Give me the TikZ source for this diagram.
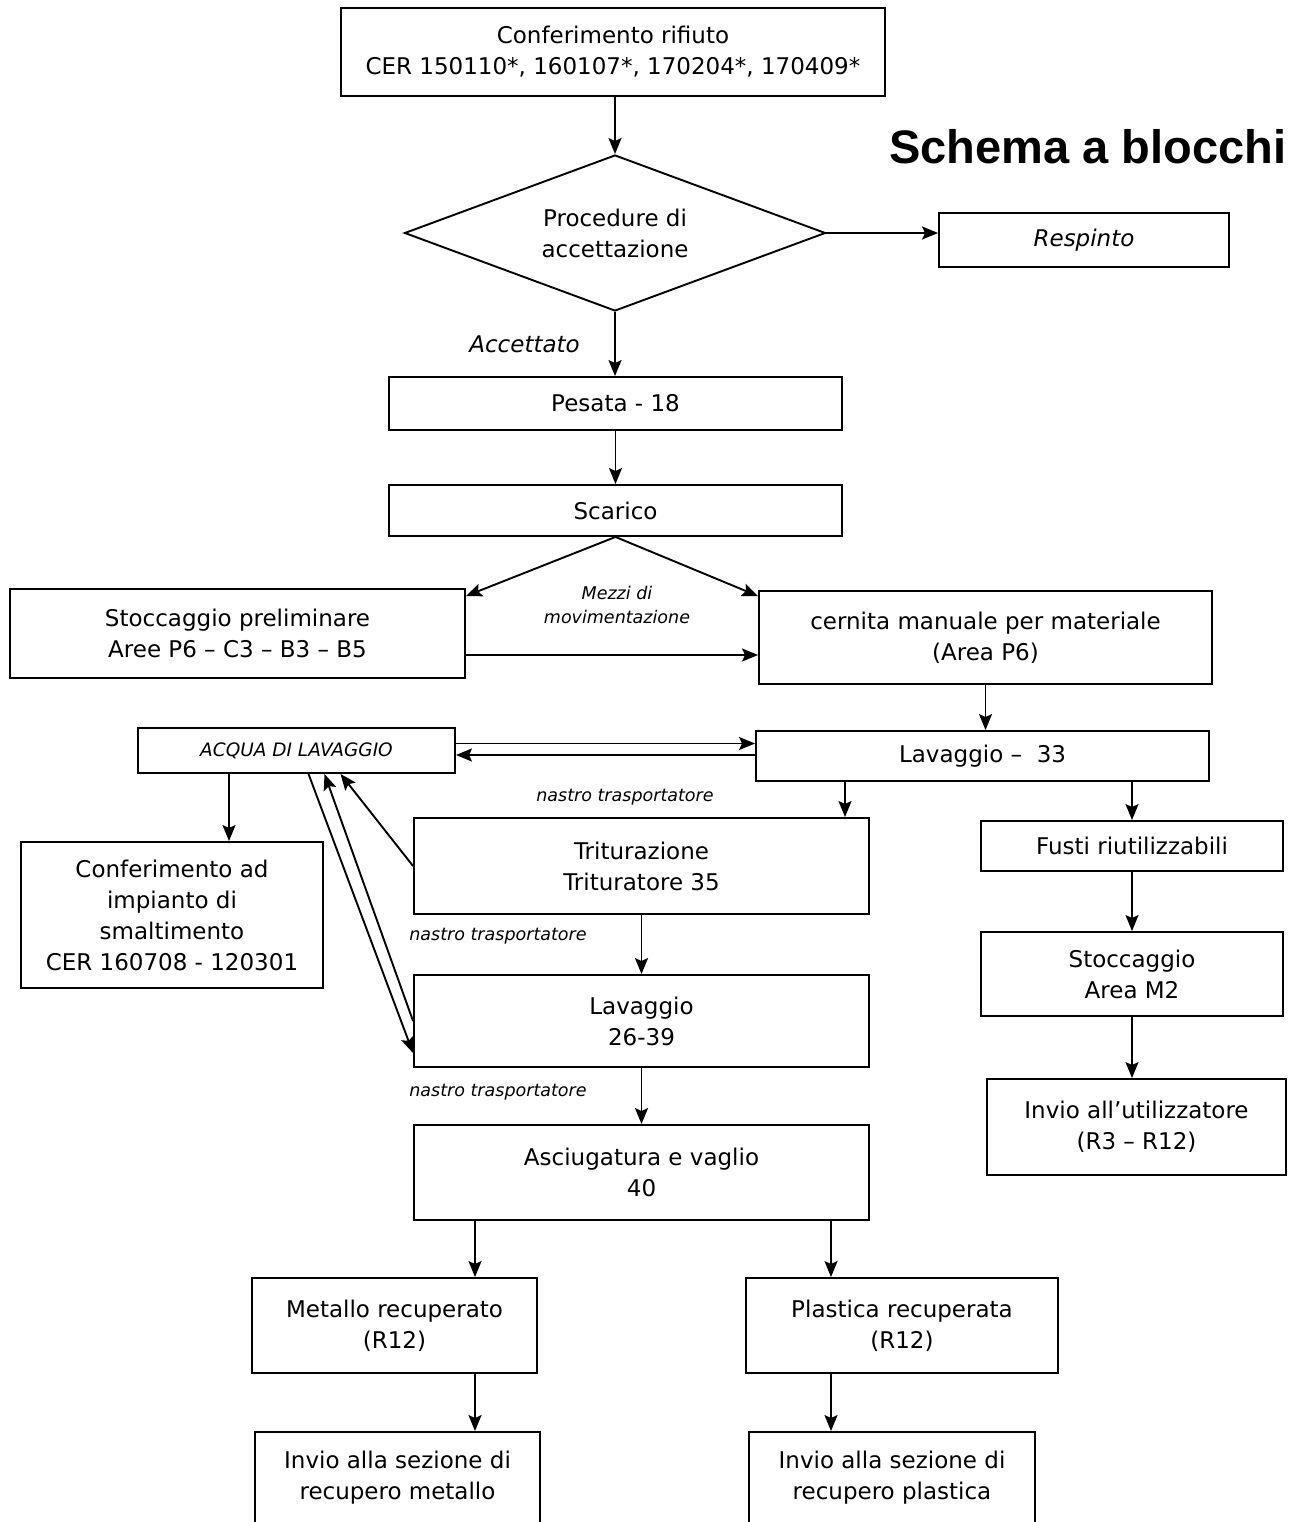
\documentclass[tikz,border=0pt]{standalone}
\usepackage{fontspec}
\setmainfont{DejaVu Sans}
\newfontfamily\titlefont{Liberation Sans}
\usetikzlibrary{arrows.meta}
\usetikzlibrary{shapes.geometric}

\begin{document}
\begin{tikzpicture}[->,>={Stealth[length=16pt,width=13pt,inset=3pt]},line width=1.9pt,
				x=1pt,y=-1pt,font=\fontsize{23}{31}\selectfont]
				\tikzstyle{block}=[draw,rectangle,align=center,inner sep=0pt]
				\tikzstyle{ittext}=[font=\fontsize{23}{31}\selectfont\itshape]
				\tikzstyle{note}=[font=\fontsize{17.5}{24}\selectfont\itshape,align=center,inner sep=0pt]
				
				\useasboundingbox (0,0) rectangle (1289,1522);
				\clip (0,0) rectangle (1289,1522);
				
				\node[font=\fontsize{47}{50}\selectfont\titlefont\bfseries] (TT) at (1088,147) {Schema a blocchi};
				
				\node[block,minimum width=544pt,minimum height=88pt] (C) at (613,52) {Conferimento rifiuto\\CER 150110*, 160107*, 170204*, 170409*};
				\node[draw,diamond,aspect=2.7,minimum width=421pt,minimum height=156pt,inner sep=0pt,align=center] (D) at (615,233) {Procedure di\\accettazione};
				\node[block,ittext,minimum width=290pt,minimum height=54pt] (R) at (1084,240) {Respinto};
				\node[block,minimum width=453pt,minimum height=53pt] (P) at (615.5,403.5) {Pesata - 18};
				\node[block,minimum width=453pt,minimum height=51pt] (S) at (615.5,510.5) {Scarico};
				\node[block,minimum width=455pt,minimum height=89pt] (SP) at (237.5,633.5) {Stoccaggio preliminare\\Aree P6 -- C3 -- B3 -- B5};
				\node[block,minimum width=453pt,minimum height=93pt] (Cn) at (985.5,637.5) {cernita manuale per materiale\\(Area P6)};
				\node[note] (MZ) at (617,605) {Mezzi di\\movimentazione};
				
				\node[block,font=\fontsize{18.5}{24}\selectfont\itshape,minimum width=317pt,minimum height=45pt] (A) at (296.5,750.5) {ACQUA DI LAVAGGIO};
				\node[block,minimum width=453pt,minimum height=50pt] (L) at (982.5,756) {Lavaggio --\ \ 33};
				\node[note] (N1) at (625,797) {nastro trasportatore};
				\node[block,minimum width=455pt,minimum height=96pt] (T) at (641.5,866) {Triturazione\\Trituratore 35};
				\node[block,minimum width=302pt,minimum height=50pt] (F) at (1132,846) {Fusti riutilizzabili};
				\node[block,minimum width=302pt,minimum height=146pt] (CI) at (172,915) {Conferimento ad\\impianto di\\smaltimento\\CER 160708 - 120301};
				\node[note] (N2) at (498,936) {nastro trasportatore};
				\node[block,minimum width=455pt,minimum height=92pt] (L2) at (641.5,1021) {Lavaggio\\26-39};
				\node[block,minimum width=302pt,minimum height=84pt] (M2) at (1132,974) {Stoccaggio\\Area M2};
				\node[note] (N3) at (498,1092) {nastro trasportatore};
				\node[block,minimum width=299pt,minimum height=96pt] (U) at (1136.5,1127) {Invio all'utilizzatore\\(R3 -- R12)};
				\node[block,minimum width=455pt,minimum height=95pt] (As) at (641.5,1172.5) {Asciugatura e vaglio\\40};
				
				\node[block,minimum width=285pt,minimum height=95pt] (M) at (394.5,1325.5) {Metallo recuperato\\(R12)};
				\node[block,minimum width=312pt,minimum height=95pt] (Pl) at (902,1325.5) {Plastica recuperata\\(R12)};
				\node[block,minimum width=285pt,minimum height=92pt] (IM) at (397.5,1478) {Invio alla sezione di\\recupero metallo};
				\node[block,minimum width=286pt,minimum height=92pt] (IP) at (892,1478) {Invio alla sezione di\\recupero plastica};
				
				\path
				(D.north |- C.south) edge (D.north)
				(D.east) edge (D.east -| R.west)
				(D.south) edge node[left=31pt,ittext] {Accettato} (D.south |- P.north)
				(P) edge (S)
				(S.south) edge ([yshift=-8pt]SP.north east)
				(S.south) edge ([yshift=-6pt]Cn.north west)
				([yshift=-21.5pt]SP.east) edge ([yshift=-21.5pt]SP.east -| Cn.west)
				(Cn.south) edge (Cn.south |- L.north)
				([yshift=7pt]A.east) edge ([yshift=7pt]A.east -| L.west)
				([yshift=-4.5pt]A.east -| L.west) edge ([yshift=-4.5pt]A.east)
				([xshift=-67.5pt]A.south) edge ([xshift=-67.5pt]A.south |- CI.north)
				([xshift=-137.5pt]L.south) edge ([xshift=-137.5pt]L.south |- T.north)
				(F.north |- L.south) edge (F.north)
				(T.west) edge ([xshift=44pt]A.south)
				([xshift=12pt]A.south) edge ([yshift=-32pt]L2.west)
				(L2.west) edge ([xshift=28pt]A.south)
				(T) edge (L2)
				(L2) edge (As)
				(F) edge (M2)
				(M2.south) edge (M2.south |- U.north)
				([xshift=-166.5pt]As.south) edge ([xshift=-166.5pt]As.south |- M.north)
				([xshift=189.5pt]As.south) edge ([xshift=189.5pt]As.south |- Pl.north)
				([xshift=80.5pt]M.south) edge ([xshift=80.5pt]M.south |- IM.north)
				([xshift=-71pt]Pl.south) edge ([xshift=-71pt]Pl.south |- IP.north);
				\end{tikzpicture}
\end{document}
